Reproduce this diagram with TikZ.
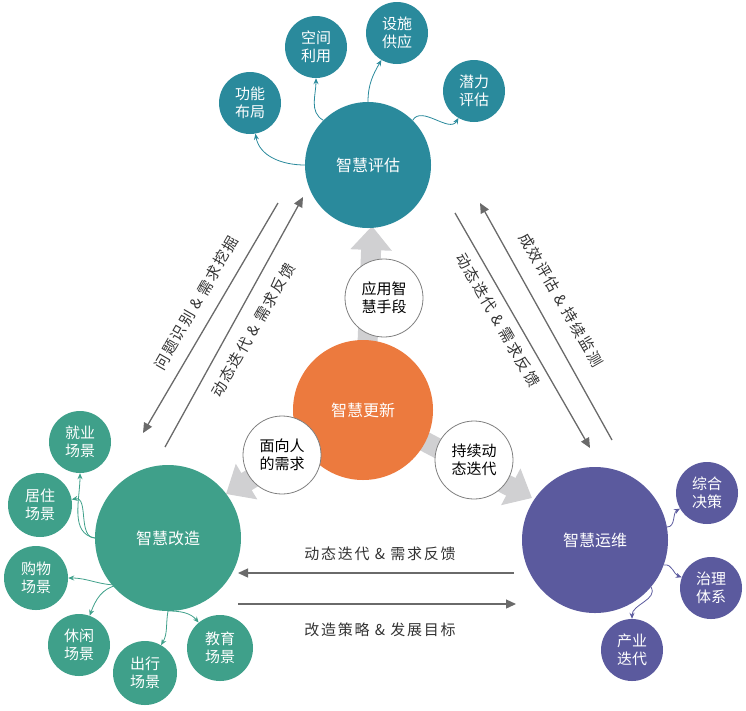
\documentclass[tikz,border=0pt]{standalone}
\usepackage{fontspec}
\setmainfont{Noto Sans CJK SC}
\usetikzlibrary{arrows.meta}
\definecolor{teal1}{HTML}{2A8A9C}
\definecolor{orng}{HTML}{EC7A3E}
\definecolor{grn}{HTML}{3FA08A}
\definecolor{purp}{HTML}{5B5A9E}
\definecolor{lgray}{HTML}{D0D0D2}
\definecolor{dgray}{HTML}{6A6A6A}
\tikzset{
 big/.style={circle,minimum size=146pt,inner sep=0pt,text=white,font=\fontsize{16}{19}\selectfont},
 sm/.style={circle,minimum size=62pt,inner sep=0pt,text=white,align=center,font=\fontsize{15}{18}\selectfont},
 mid/.style={circle,draw=gray,thick,fill=white,minimum size=78pt,inner sep=0pt,align=center,font=\fontsize{15}{18}\selectfont},
 bigarr/.style={lgray,line width=20pt,-{Triangle[width=40pt,length=24pt]}},
 lnarr/.style={dgray,line width=1.3pt,-{Triangle[width=9pt,length=10pt]}},
 lab/.style={font=\fontsize{15}{18}\selectfont\addfontfeature{LetterSpace=12},text=black!80,inner sep=0pt},
 con/.style={line width=0.8pt,-{Stealth[length=6pt,width=5pt]}}
}
\begin{document}
\begin{tikzpicture}[x=1pt,y=-1pt]
\useasboundingbox (0,0) rectangle (746,710);
% big grey arrows
\coordinate (bc) at (365,410);
\coordinate (ta) at (372,226);
\coordinate (tl) at (226,494);
\coordinate (tr) at (532,498);
\draw[bigarr] (bc) -- (ta);
\draw[bigarr] (bc) -- (tl);
\draw[bigarr] (bc) -- (tr);
% main circles
\node[big,fill=teal1,minimum size=126pt] (a) at (368,165) {智慧评估};
\node[big,fill=orng,minimum size=140pt] (b) at (363,410) {智慧更新};
\node[big,fill=grn] (c) at (168,538) {智慧改造};
\node[big,fill=purp] (d) at (595,540) {智慧运维};
% middle white circles
\node[mid] (m1) at (384,298) {应用智\\慧手段};
\node[mid] (m2) at (282,455) {面向人\\的需求};
\node[mid] (m3) at (474,460) {持续动\\态迭代};
% top small
\node[sm,fill=teal1] (a1) at (250,103) {功能\\布局};
\node[sm,fill=teal1] (a2) at (316,47) {空间\\利用};
\node[sm,fill=teal1] (a3) at (397,33) {设施\\供应};
\node[sm,fill=teal1] (a4) at (474,91) {潜力\\评估};
\draw[con,teal1] (a.west) to[out=180,in=-80] (a1);
\draw[con,teal1] (a.north west) to[out=150,in=-90] (a2);
\draw[con,teal1] (a.north) to[out=90,in=-120] (a3);
\draw[con,teal1] (a.north east) to[out=60,in=-120] (a4);
% right small
\node[sm,fill=purp] (d1) at (707,493) {综合\\决策};
\node[sm,fill=purp] (d2) at (711,588) {治理\\体系};
\node[sm,fill=purp] (d3) at (632,650) {产业\\迭代};
\coordinate (dp1) at (667,527);
\coordinate (dp2) at (664,565);
\coordinate (dp3) at (651,587);
\draw[con,purp] (dp1) to[out=0,in=210] (d1);
\draw[con,purp] (dp2) to[out=10,in=160] (d2);
\draw[con,purp] (dp3) to[out=-60,in=90] (d3);
% left small
\node[sm,fill=grn] (c1) at (80,442) {就业\\场景};
\node[sm,fill=grn,minimum size=64pt] (c2) at (40,505) {居住\\场景};
\node[sm,fill=grn,minimum size=64pt] (c3) at (36,578) {购物\\场景};
\node[sm,fill=grn] (c4) at (79,645) {休闲\\场景};
\node[sm,fill=grn,minimum size=64pt] (c5) at (145,673) {出行\\场景};
\node[sm,fill=grn,minimum size=66pt] (c6) at (220,648) {教育\\场景};
\coordinate (cw) at (95,538);
\coordinate (cs) at (118,585);
\coordinate (cb) at (168,611);
\draw[con,grn] (cw) to[out=170,in=-90] (c1);
\draw[con,grn] (cw) to[out=180,in=10] (c2);
\draw[con,grn] (cs) to[out=180,in=0] (c3);
\draw[con,grn] (cs) to[out=-170,in=70] (c4);
\draw[con,grn] (cb) to[out=-100,in=60] (c5);
\draw[con,grn] (cb) to[out=0,in=130] (c6);
% line arrows left
\coordinate (l1s) at (278,203); \coordinate (l1e) at (143,433);
\coordinate (l2s) at (165,447); \coordinate (l2e) at (303,197);
\draw[lnarr] (l1s) -- (l1e);
\draw[lnarr] (l2s) -- (l2e);
\node[lab,rotate=60] (t1) at (196,303) {问题识别 \& 需求挖掘};
\node[lab,rotate=60] (t2) at (253,330) {动态迭代 \& 需求反馈};
% right
\coordinate (r1s) at (612,440); \coordinate (r1e) at (480,203);
\coordinate (r2s) at (455,213); \coordinate (r2e) at (590,448);
\draw[lnarr] (r1s) -- (r1e);
\draw[lnarr] (r2s) -- (r2e);
\node[lab,rotate=-60] (t3) at (561,300) {成效评估 \& 持续监测};
\node[lab,rotate=-60] (t4) at (498,320) {动态迭代 \& 需求反馈};
% bottom
\coordinate (b1s) at (514,573); \coordinate (b1e) at (238,573);
\coordinate (b2s) at (238,604); \coordinate (b2e) at (516,604);
\draw[lnarr] (b1s) -- (b1e);
\draw[lnarr] (b2s) -- (b2e);
\node[lab] (t5) at (380,554) {动态迭代 \& 需求反馈};
\node[lab] (t6) at (380,630) {改造策略 \& 发展目标};
\end{tikzpicture}
\end{document}
